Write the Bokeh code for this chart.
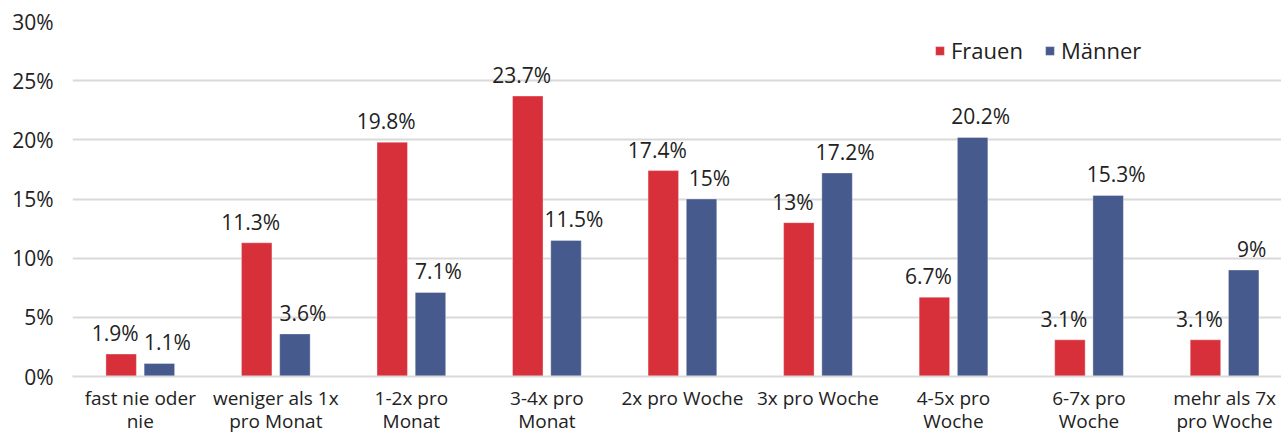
from bokeh.plotting import figure
from bokeh.models import (ColumnDataSource, FixedTicker, PrintfTickFormatter,
                          Range1d, Legend, LegendItem)
from bokeh.embed import file_html
from bokeh.resources import INLINE
from bokeh.core.properties import value
import numpy as np

# Häufigkeit nach Geschlecht (Anteil in %)
categories = ["fast nie oder\nnie", "weniger als 1x\npro Monat", "1-2x pro\nMonat",
              "3-4x pro\nMonat", "2x pro Woche", "3x pro Woche", "4-5x pro\nWoche",
              "6-7x pro\nWoche", "mehr als 7x\npro Woche"]
frauen = [1.9, 11.3, 19.8, 23.7, 17.4, 13, 6.7, 3.1, 3.1]
maenner = [1.1, 3.6, 7.1, 11.5, 15, 17.2, 20.2, 15.3, 9]
y_ticks = [0, 5, 10, 15, 20, 25, 30]

RED = "#d7303a"
BLUE = "#475a8d"
TEXT = "#222222"
GRID = "#d9d9d9"
FONT = "Open Sans"

centers = np.arange(len(categories)) + 0.5
offset = 0.141
bar_w = 0.225

src_f = ColumnDataSource(dict(x=centers - offset, top=frauen,
                              label=[f"{v:g}%" for v in frauen]))
src_m = ColumnDataSource(dict(x=centers + offset, top=maenner,
                              label=[f"{v:g}%" for v in maenner]))

p = figure(width=1281, height=437, output_backend="svg", toolbar_location=None,
           x_range=Range1d(0, 8.92), y_range=Range1d(0, 30),
           min_border_left=72, min_border_right=0, min_border_top=21,
           min_border_bottom=0)
p.outline_line_color = None
p.background_fill_color = "white"
p.border_fill_color = "white"

rf = p.vbar(x="x", top="top", width=bar_w, source=src_f, fill_color=RED,
            line_color="white", line_alpha=0.35, line_width=1)
rm = p.vbar(x="x", top="top", width=bar_w, source=src_m, fill_color=BLUE,
            line_color="white", line_alpha=0.35, line_width=1)

for src, dx in ((src_f, -6), (src_m, 8)):
    p.text(x="x", y="top", text="label", source=src, text_align="center",
           text_baseline="alphabetic", x_offset=dx, y_offset=-21,
           text_font=value(FONT), text_font_size="21px", text_color=TEXT)

# x axis: category labels
p.xaxis.ticker = FixedTicker(ticks=list(centers))
p.xaxis.major_label_overrides = {float(c): lab for c, lab in zip(centers, categories)}
p.xaxis.major_tick_line_color = None
p.xaxis.major_tick_out = 0
p.xaxis.major_tick_in = 0
p.xaxis.minor_tick_line_color = None
p.xaxis.axis_line_color = GRID
p.xaxis.axis_line_width = 2
p.xaxis.major_label_text_font = FONT
p.xaxis.major_label_text_font_size = "19px"
p.xaxis.major_label_text_color = TEXT
p.xaxis.major_label_standoff = 8
p.xaxis.major_label_text_line_height = 0.92
p.xgrid.grid_line_color = None

# y axis: percent
p.yaxis.ticker = FixedTicker(ticks=y_ticks)
p.yaxis.formatter = PrintfTickFormatter(format="%d%%")
p.yaxis.axis_line_color = None
p.yaxis.major_tick_line_color = None
p.yaxis.major_tick_out = 0
p.yaxis.major_tick_in = 0
p.yaxis.minor_tick_line_color = None
p.yaxis.major_label_text_font = FONT
p.yaxis.major_label_text_font_size = "21px"
p.yaxis.major_label_text_color = TEXT
p.yaxis.major_label_standoff = 19
p.ygrid.grid_line_color = GRID
p.ygrid.grid_line_width = 2

legend = Legend(items=[LegendItem(label="Frauen", renderers=[rf]),
                       LegendItem(label="Männer", renderers=[rm])],
                orientation="horizontal", location=(862, 311),
                border_line_color=None, background_fill_alpha=0,
                padding=0, margin=0, spacing=21,
                glyph_width=11, glyph_height=11, label_standoff=6,
                label_text_font=FONT, label_text_font_size="22px",
                label_text_color=TEXT)
p.add_layout(legend)

open("out.html", "w").write(file_html(p, INLINE))
